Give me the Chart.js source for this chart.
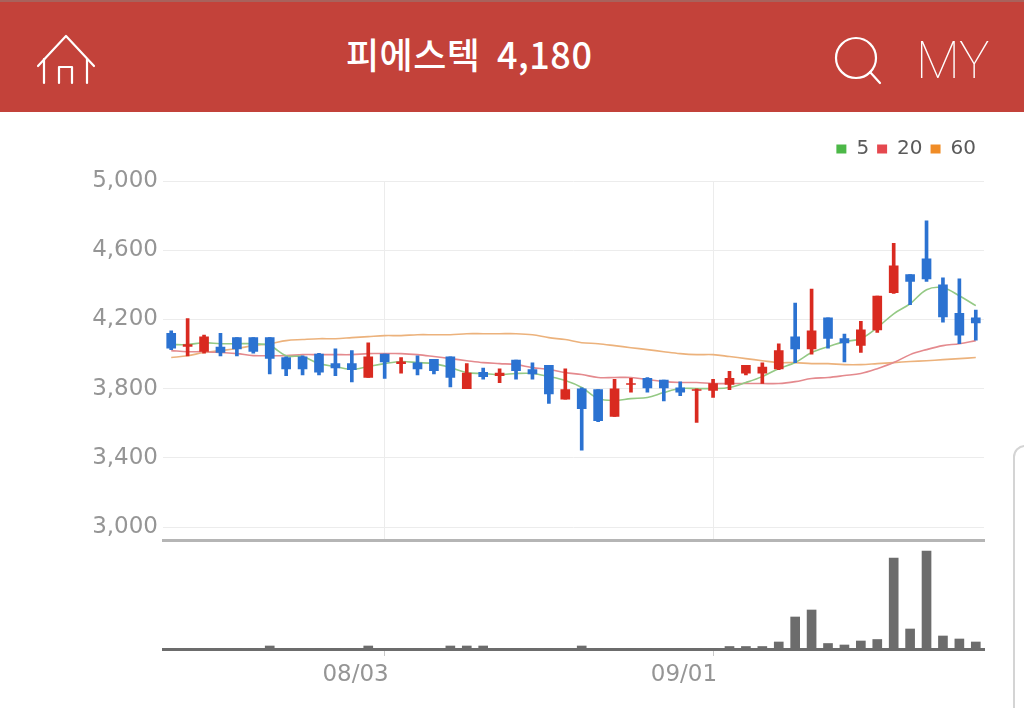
<!DOCTYPE html>
<html lang="ko"><head><meta charset="utf-8">
<script src="https://cdn.jsdelivr.net/npm/chart.js@4"></script>
<style>
html,body{margin:0;padding:0;background:#fff;width:1024px;height:708px;overflow:hidden;position:relative}
#hdr{position:absolute;left:0;top:0;width:1024px;height:112px;background:#c3423a;border-top:2px solid #a8625c;box-sizing:border-box}
#hdr svg{position:absolute;left:0;top:-2px}
#title{position:absolute;left:346px;top:26px;color:#fff;font:500 36px "Noto Sans CJK KR",sans-serif;letter-spacing:.5px;word-spacing:6px;white-space:nowrap;line-height:50px}
#my{position:absolute;left:916px;top:28px;color:#fff;font:100 51px Roboto,sans-serif;line-height:62px;white-space:nowrap}
canvas{position:absolute;left:0}
#edge{position:absolute;left:1013px;top:445px;width:30px;height:300px;border:2px solid #d4d4d4;border-radius:12px 0 0 0;box-sizing:border-box}
</style></head><body>
<div id="hdr">
<svg width="1024" height="112" fill="none" stroke="#fff" stroke-width="2.2" stroke-linecap="round" stroke-linejoin="round">
<path d="M38 66 L66 36 L94 66"/><path d="M44 59 V83"/><path d="M87 59 V83"/><path d="M59 83 V67 H72 V83"/>
<circle cx="856" cy="58" r="20"/><path d="M870 72 L880 83"/>
</svg>
<div id="title">피에스텍 4,180</div><div id="my">MY</div>
</div>
<div id="edge"></div>
<canvas id="vc" style="top:541px;width:1024px;height:167px"></canvas>
<canvas id="pc" style="top:112px;width:1024px;height:447px"></canvas>
<script>
const categories=['07/15','07/16','07/17','07/20','07/21','07/22','07/23','07/24','07/27','07/28','07/29','07/30','07/31','08/03','08/04','08/05','08/06','08/07','08/10','08/11','08/12','08/13','08/17','08/18','08/19','08/20','08/21','08/24','08/25','08/26','08/27','08/28','08/31','09/01','09/02','09/03','09/04','09/07','09/08','09/09','09/10','09/11','09/14','09/15','09/16','09/17','09/18','09/21','09/22','09/23'];
const dateTicks=['08/03','09/01'];
const priceTicks=[3000,3400,3800,4200,4600,5000];
const opens =[4120,4045,4015,4040,4095,4095,4095,3980,3985,4000,3945,3945,3865,4000,3945,3950,3970,3985,3800,3895,3875,3965,3910,3935,3740,3800,3795,3640,3825,3860,3850,3805,3790,3790,3825,3890,3890,3915,4100,4030,4210,4090,4050,4140,4355,4460,4550,4400,4235,4210];
const highs =[4135,4205,4110,4120,4095,4095,4095,3985,3990,4005,4030,4020,4065,4000,3980,3990,3970,3985,3945,3920,3915,3965,3950,3935,3915,3805,3795,3855,3860,3865,3850,3840,3800,3855,3900,3935,3950,4060,4295,4375,4210,4115,4190,4335,4640,4460,4770,4440,4435,4255];
const lows  =[4025,3990,4005,3990,3990,4005,3885,3875,3880,3880,3875,3840,3865,3860,3890,3880,3885,3810,3800,3855,3835,3855,3855,3715,3740,3445,3610,3640,3780,3780,3730,3760,3605,3750,3795,3880,3830,3910,3950,4000,4035,3955,4010,4125,4350,4285,4420,4185,4060,4080];
const closes=[4035,4055,4100,4010,4030,4015,3975,3915,3915,3895,3920,3910,3985,3955,3955,3915,3905,3865,3890,3870,3890,3905,3885,3770,3795,3685,3615,3800,3830,3805,3805,3780,3795,3830,3860,3935,3925,4020,4030,4135,4090,4065,4140,4335,4510,4420,4435,4215,4110,4180];
const ma5 =[4055,4055,4066,4060,4060,4060,4049,3991,3986,3945,3928,3911,3928,3945,3957,3951,3945,3922,3893,3888,3882,3888,3888,3870,3847,3807,3743,3732,3743,3749,3778,3801,3801,3801,3807,3836,3870,3916,3951,4009,4043,4072,4089,4153,4233,4291,4372,4383,4337,4280];
const ma20=[4020,4014,4014,4009,4003,3991,3991,3991,3997,3997,3997,3997,4003,4003,4003,3997,3986,3974,3962,3951,3945,3939,3922,3911,3893,3882,3865,3865,3865,3853,3841,3836,3836,3830,3830,3830,3830,3830,3841,3859,3865,3876,3888,3916,3951,3997,4026,4049,4060,4078];
const ma60=[3980,3991,4009,4020,4032,4049,4060,4078,4084,4089,4089,4095,4101,4107,4107,4112,4112,4112,4118,4118,4118,4118,4112,4095,4084,4066,4060,4049,4037,4026,4014,4003,3997,3997,3986,3974,3962,3951,3951,3945,3945,3939,3939,3945,3951,3957,3962,3968,3974,3980];
const volumes=[.4,.4,.4,.4,.4,.4,3,.4,.4,.4,.4,.4,3,.4,.4,.4,.4,3,3,3,.4,.4,.4,.4,.4,3,.4,.4,.4,.4,.4,.4,.4,.4,2.5,2.5,2.5,7,32,39,5.5,4,8,9.5,91,20,98,13,10,7];
const legendItems=[['5','#4cb848'],['20','#e5484f'],['60','#f08c26']];

const UP='#d92a20',DOWN='#2b72d1',AXIS='#959595',LEGEND_TEXT='#5a5a5a',FONT='"DejaVu Sans",sans-serif';
const candleColors=opens.map((o,i)=>closes[i]>=o?UP:DOWN);
const keepDates=s=>{s.ticks=s.ticks.filter(t=>dateTicks.includes(categories[t.value]));};
Chart.defaults.animation=false;
Chart.defaults.responsive=false;
function size(id,w,h){const c=document.getElementById(id);c.width=w;c.height=h;return c;}
const legendSpace={id:'legendSpace',beforeInit(chart){const f=chart.legend.fit;chart.legend.fit=function(){f.call(this);this.height+=12;};}};

new Chart(size('pc',1024,447),{
 type:'bar',
 plugins:[legendSpace],
 data:{labels:categories,datasets:[
  {type:'bar',label:'body',data:opens.map((o,i)=>[o,closes[i]]),backgroundColor:candleColors,barThickness:9,grouped:false,order:1},
  {type:'bar',label:'wick',data:lows.map((l,i)=>[l,highs[i]]),backgroundColor:candleColors,barThickness:3,grouped:false,order:2},
  {type:'line',label:'5',data:ma5,borderColor:'#94c985',borderWidth:1.6,pointRadius:0,tension:.35,order:3},
  {type:'line',label:'20',data:ma20,borderColor:'#e48a8e',borderWidth:1.6,pointRadius:0,tension:.35,order:4},
  {type:'line',label:'60',data:ma60,borderColor:'#ecb27c',borderWidth:1.6,pointRadius:0,tension:.35,order:5}
 ]},
 options:{
  devicePixelRatio:1,
  layout:{padding:{left:0,right:40,top:19,bottom:0}},
  plugins:{tooltip:{enabled:false},
   legend:{position:'top',align:'end',
    labels:{boxWidth:10,boxHeight:9,padding:8,color:LEGEND_TEXT,font:{family:FONT,size:20},
     generateLabels:()=>legendItems.map(([t,c])=>({text:t,fillStyle:c,strokeStyle:c,lineWidth:0,fontColor:LEGEND_TEXT}))}}},
  scales:{
   x:{offset:true,grid:{offset:false,color:'#ececec',lineWidth:1,drawTicks:false},border:{color:'#b5b5b5',width:3},
      afterBuildTicks:keepDates,ticks:{display:false,autoSkip:false},afterFit:s=>{s.height=1;}},
   y:{min:2925,max:5000,grid:{color:'#ececec',drawTicks:false},border:{display:false},
      afterBuildTicks:s=>{s.ticks=priceTicks.map(v=>({value:v}));},
      afterFit:s=>{s.width=163;},
      ticks:{color:AXIS,padding:5,font:{family:FONT,size:23},callback:v=>v.toLocaleString('en-US')}}
  }
 }
});

new Chart(size('vc',1024,167),{
 type:'bar',
 data:{labels:categories,datasets:[{label:'volume',data:volumes,backgroundColor:'#6c6c6c',barThickness:9}]},
 options:{
  devicePixelRatio:1,
  layout:{padding:{left:163,right:40,top:0,bottom:0}},
  plugins:{legend:{display:false},tooltip:{enabled:false}},
  scales:{
   x:{offset:true,grid:{offset:false,drawOnChartArea:false,color:'#c8c8c8',tickLength:7},border:{color:'#6c6c6c',width:3},
      afterBuildTicks:keepDates,afterFit:s=>{s.height=59;},
      ticks:{color:AXIS,autoSkip:false,maxRotation:0,padding:5,align:'end',labelOffset:4,font:{family:FONT,size:23}}},
   y:{display:false,min:0,max:108}
  }
 }
});
</script></body></html>
